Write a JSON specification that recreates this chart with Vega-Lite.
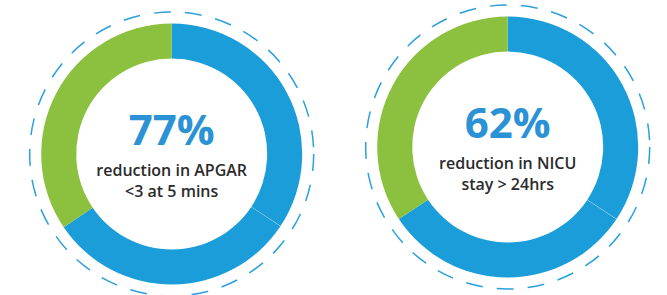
{
  "$schema": "https://vega.github.io/schema/vega-lite/v6.json",
  "width": 667,
  "height": 295,
  "padding": 0,
  "autosize": {"type": "fit", "contains": "padding"},
  "background": "white",
  "view": {"stroke": null},
  "datasets": {
    "arcs": [
      {"chart": "APGAR", "part": "reduction", "start": 0, "end": 34.3},
      {"chart": "APGAR", "part": "reduction", "start": 34.34, "end": 65.5},
      {"chart": "APGAR", "part": "other", "start": 65.5, "end": 100},
      {"chart": "NICU", "part": "reduction", "start": 0, "end": 34.3},
      {"chart": "NICU", "part": "reduction", "start": 34.34, "end": 65.7},
      {"chart": "NICU", "part": "other", "start": 65.7, "end": 100}
    ],
    "labels": [
      {"chart": "APGAR", "pct": "77%", "caption": ["reduction in APGAR", "<3 at 5 mins"]},
      {"chart": "NICU", "pct": "62%", "caption": ["reduction in NICU", "stay > 24hrs"]}
    ]
  },
  "encoding": {
    "x": {"field": "chart", "type": "nominal", "axis": null, "scale": {"type": "point", "domain": ["APGAR", "NICU"], "range": [171.7, 507.7], "padding": 0}},
    "y": {"field": "chart", "type": "nominal", "axis": null, "scale": {"type": "point", "domain": ["APGAR", "NICU"], "range": [154, 147], "padding": 0}}
  },
  "layer": [
    {
      "data": {"name": "labels"},
      "mark": {"type": "point", "shape": "circle", "size": 80656, "filled": false, "stroke": "#2aa0dc", "strokeWidth": 1.5, "strokeDash": [17, 14], "opacity": 1}
    },
    {
      "data": {"name": "arcs"},
      "mark": {"type": "arc", "radius": 130.5, "radius2": 95.5},
      "encoding": {
        "theta": {"field": "start", "type": "quantitative", "stack": null, "scale": {"domain": [0, 100]}},
        "theta2": {"field": "end"},
        "color": {"field": "part", "type": "nominal", "legend": null, "scale": {"domain": ["reduction", "other"], "range": ["#1a9dd9", "#8cc13f"]}}
      }
    },
    {
      "data": {"name": "labels"},
      "mark": {"type": "text", "font": "Open Sans", "fontWeight": "bold", "fontSize": 42, "color": "#2b92d6", "baseline": "alphabetic", "align": "center", "dy": -9},
      "encoding": {"text": {"field": "pct"}}
    },
    {
      "data": {"name": "labels"},
      "mark": {"type": "text", "font": "Open Sans", "fontWeight": 600, "fontSize": 16, "color": "#2b2b2b", "baseline": "alphabetic", "align": "center", "dy": 21.5, "lineHeight": 21.5},
      "encoding": {"text": {"field": "caption"}}
    }
  ]
}
